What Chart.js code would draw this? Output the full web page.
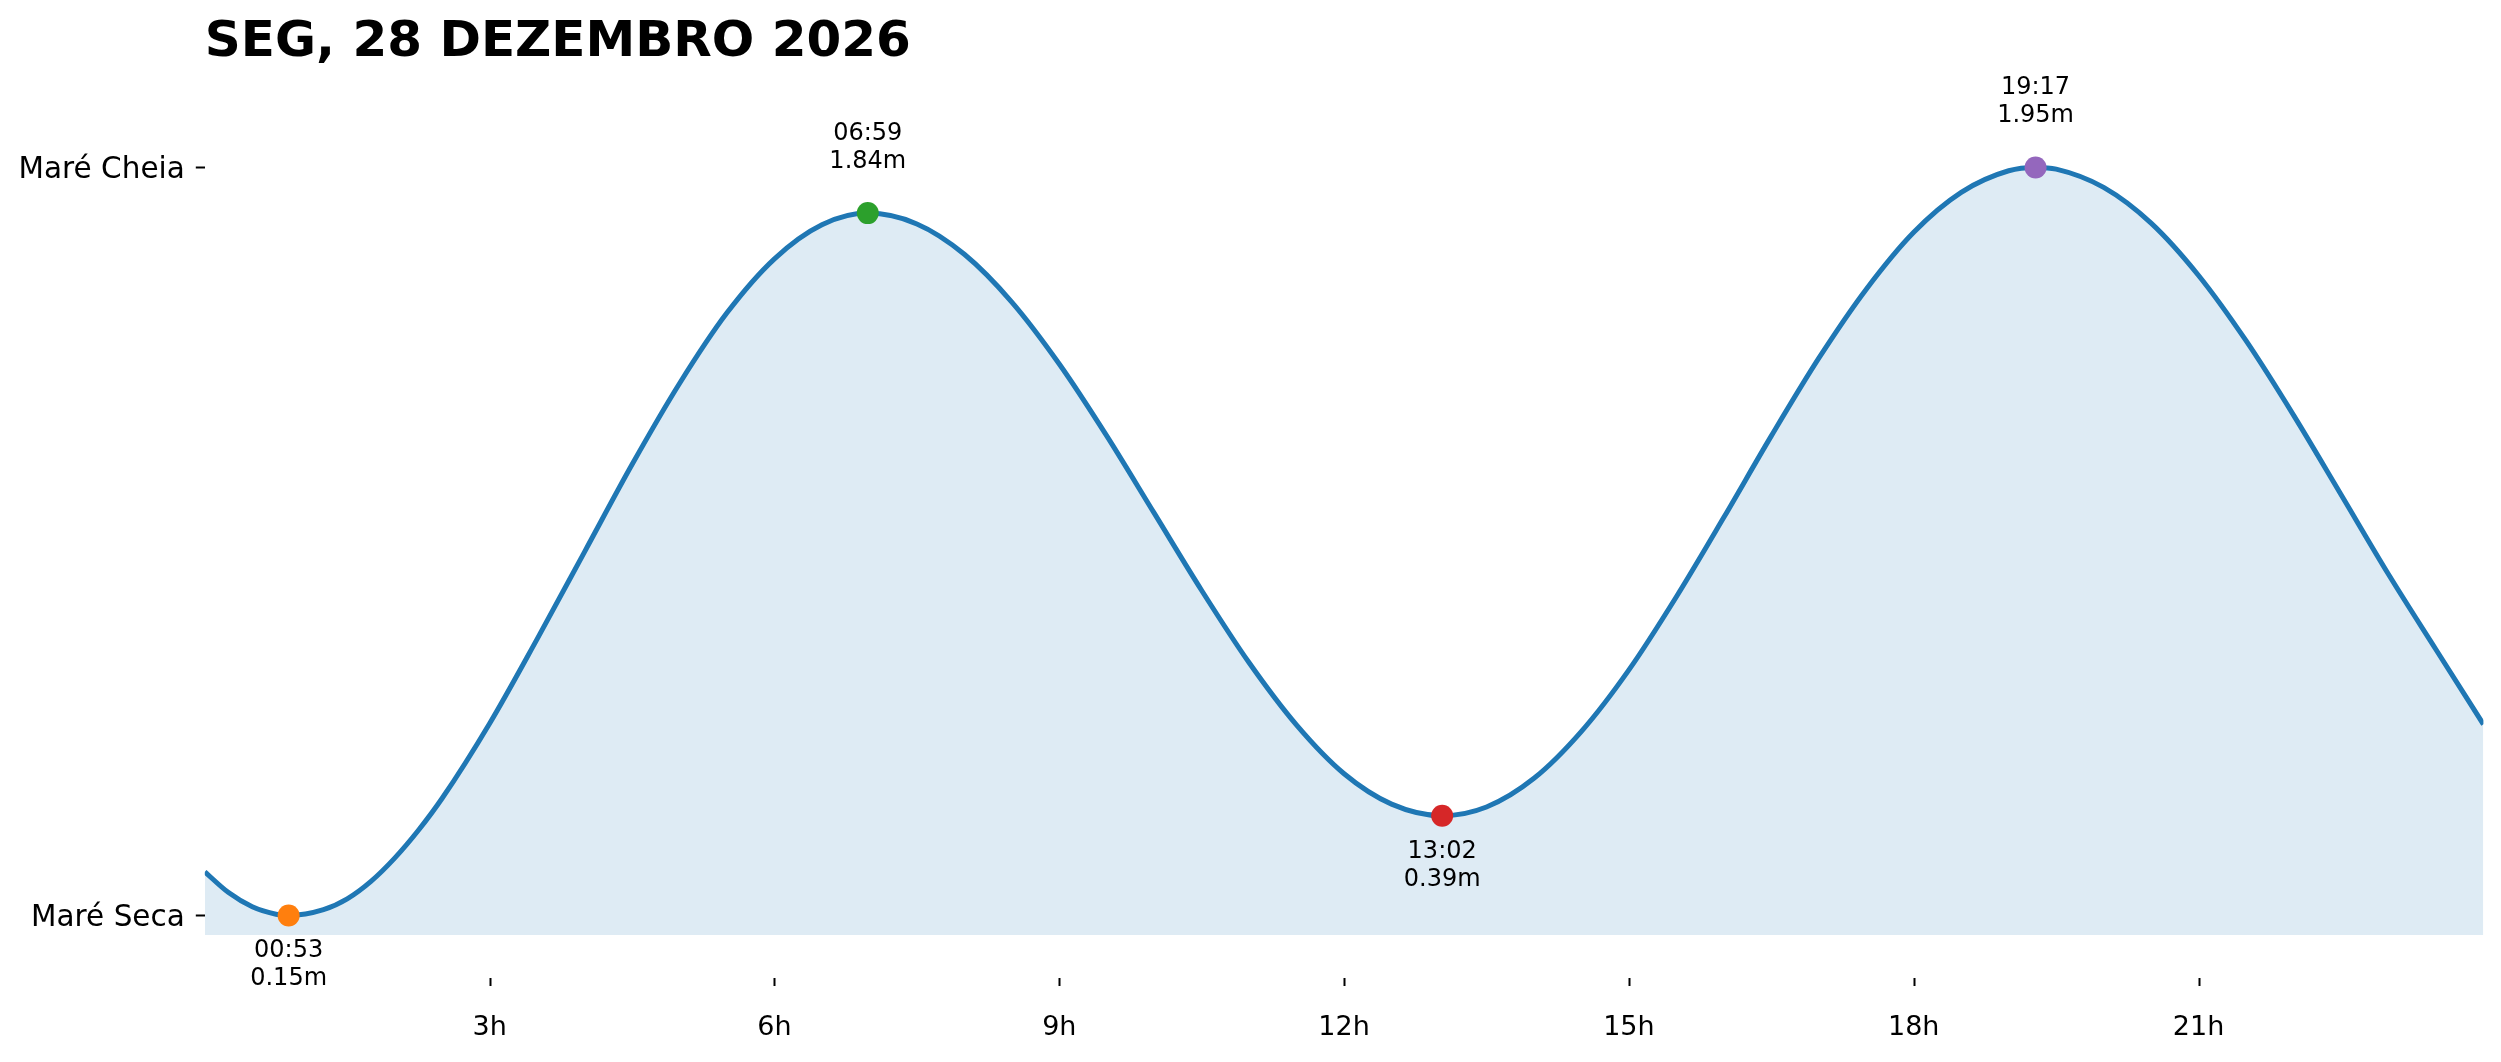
<!DOCTYPE html>
<html>
<head>
<meta charset="utf-8">
<script src="https://cdn.jsdelivr.net/npm/chart.js@4"></script>
<style>
  html, body { margin: 0; padding: 0; background: #fff; }
  #tide { display: block; }
</style>
</head>
<body>
<canvas id="tide" width="2501" height="1062"></canvas>
<script>
// tide curve (hours since midnight, metres)
const hours = [0, 0.25, 0.5, 0.75, 0.883, 1.25, 1.5, 1.75, 2, 2.25, 2.5, 3, 3.5, 4, 4.5, 5, 5.5, 6, 6.5, 6.983,
    7.5, 8, 8.5, 9, 9.5, 10, 10.5, 11, 11.5, 12, 12.5, 13.033,
    13.5, 14, 14.5, 15, 15.5, 16, 16.5, 17, 17.5, 18, 18.5, 19, 19.283,
    19.5, 20, 20.5, 21, 21.5, 22, 22.5, 23, 23.5, 24];
const heights = [0.255, 0.205, 0.171, 0.153, 0.15, 0.164, 0.19, 0.232, 0.288, 0.355, 0.432, 0.612, 0.815, 1.025, 1.235, 1.43, 1.60, 1.73, 1.812, 1.84,
    1.814, 1.741, 1.626, 1.477, 1.304, 1.118, 0.932, 0.758, 0.608, 0.491, 0.418, 0.39,
    0.411, 0.48, 0.593, 0.741, 0.917, 1.108, 1.304, 1.491, 1.657, 1.794, 1.89, 1.942, 1.95,
    1.946, 1.902, 1.816, 1.69, 1.533, 1.354, 1.163, 0.971, 0.79, 0.61];

// highs and lows
const extremeHours = [0.883, 6.983, 13.033, 19.283];
const extremeHeights = [0.15, 1.84, 0.39, 1.95];
const extremeTimes = ['00:53', '06:59', '13:02', '19:17'];
const extremeKinds = ['low', 'high', 'low', 'high'];
const extremeColors = ['#ff7f0e', '#2ca02c', '#d62728', '#9467bd'];

const xTickHours = [3, 6, 9, 12, 15, 18, 21];
const xTickLabels = ['3h', '6h', '9h', '12h', '15h', '18h', '21h'];
const yTickValues = [0.15, 1.95];
const yTickLabels = ['Maré Seca', 'Maré Cheia'];

const titleText = 'SEG, 28 DEZEMBRO 2026';
const FONT = '"DejaVu Sans", sans-serif';

const tidePlugin = {
    id: 'tideExtras',
    afterDatasetsDraw(chart) {
        const ctx = chart.ctx;
        const xs = chart.scales.x;
        const ys = chart.scales.y;
        ctx.save();
        // title
        ctx.fillStyle = '#000';
        ctx.font = 'bold 50px ' + FONT;
        ctx.textAlign = 'left';
        ctx.textBaseline = 'alphabetic';
        ctx.fillText(titleText, chart.chartArea.left, 56);

        // x tick marks, set off below the plot
        ctx.strokeStyle = '#000';
        ctx.lineWidth = 2;
        xTickHours.forEach(h => {
            const px = Math.round(xs.getPixelForValue(h)) + 0.5;
            ctx.beginPath();
            ctx.moveTo(px, 978);
            ctx.lineTo(px, 986);
            ctx.stroke();
        });

        // labels of highs and lows
        ctx.font = '24px ' + FONT;
        ctx.textAlign = 'center';
        extremeHours.forEach((h, i) => {
            const px = xs.getPixelForValue(h);
            const py = ys.getPixelForValue(extremeHeights[i]);
            const meters = extremeHeights[i].toFixed(2) + 'm';
            if (extremeKinds[i] === 'high') {
                ctx.fillText(extremeTimes[i], px, py - 73);
                ctx.fillText(meters, px, py - 45);
            } else {
                ctx.fillText(extremeTimes[i], px, py + 42);
                ctx.fillText(meters, px, py + 70);
            }
        });
        ctx.restore();
    }
};

new Chart(document.getElementById('tide'), {
    type: 'line',
    data: {
        datasets: [{
            type: 'scatter',
            data: extremeHours.map((h, i) => ({x: h, y: extremeHeights[i]})),
            pointRadius: 11,
            pointHoverRadius: 11,
            pointBorderWidth: 0,
            pointBackgroundColor: extremeColors,
            pointBorderColor: extremeColors,
            order: 0
        }, {
            data: hours.map((h, i) => ({x: h, y: heights[i]})),
            borderColor: '#1f77b4',
            borderWidth: 5,
            backgroundColor: 'rgba(31, 119, 180, 0.15)',
            fill: 'start',
            pointRadius: 0,
            cubicInterpolationMode: 'monotone',
            order: 1
        }]
    },
    options: {
        responsive: false,
        devicePixelRatio: 1,
        animation: false,
        events: [],
        layout: {
            padding: {left: 0, right: 17.6, top: 130, bottom: 0}
        },
        scales: {
            x: {
                type: 'linear',
                min: 0,
                max: 24,
                afterBuildTicks(axis) {
                    axis.ticks = xTickHours.map(v => ({value: v}));
                },
                afterFit(axis) {
                    axis.height = 127;
                },
                grid: {
                    display: false,
                    drawTicks: false
                },
                border: {
                    display: false
                },
                ticks: {
                    color: '#000',
                    padding: 77,
                    maxRotation: 0,
                    autoSkip: false,
                    font: {family: FONT, size: 27},
                    callback(value) {
                        const i = xTickHours.indexOf(value);
                        return i >= 0 ? xTickLabels[i] : '';
                    }
                }
            },
            y: {
                min: 0.103,
                max: 2.04,
                afterBuildTicks(axis) {
                    axis.ticks = yTickValues.map(v => ({value: v}));
                },
                afterFit(axis) {
                    axis.width = 204.8;
                },
                grid: {
                    drawOnChartArea: false,
                    drawTicks: true,
                    tickLength: 9,
                    tickWidth: 2,
                    tickColor: '#000'
                },
                border: {
                    display: false
                },
                ticks: {
                    color: '#000',
                    padding: 11,
                    labelOffset: 3,
                    autoSkip: false,
                    font: {family: FONT, size: 29.5},
                    callback(value) {
                        const i = yTickValues.indexOf(value);
                        return i >= 0 ? yTickLabels[i] : '';
                    }
                }
            }
        },
        plugins: {
            legend: {display: false},
            title: {display: false},
            tooltip: {enabled: false}
        }
    },
    plugins: [tidePlugin]
});
</script>
</body>
</html>
